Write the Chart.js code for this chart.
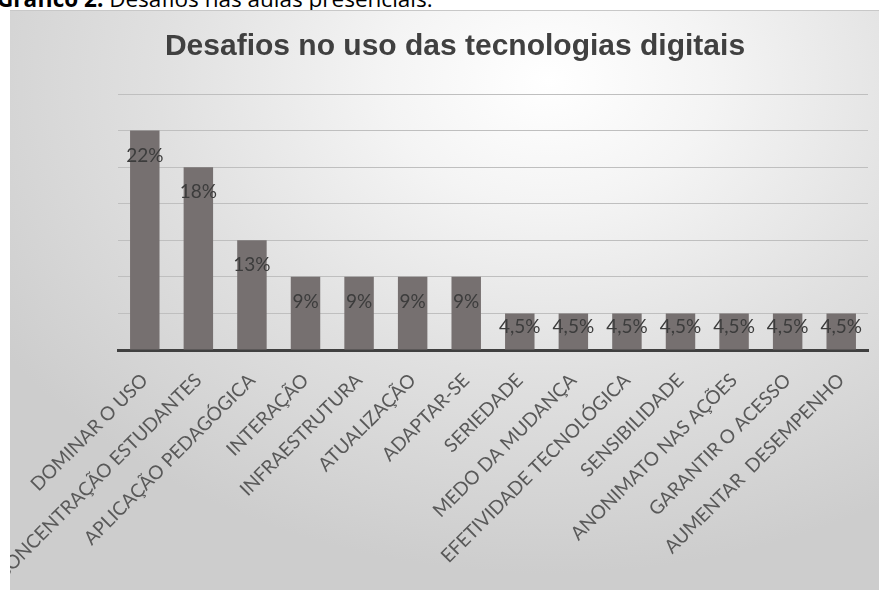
<!DOCTYPE html>
<html>
<head>
<meta charset="utf-8">
<script src="https://cdn.jsdelivr.net/npm/chart.js@4.4.1/dist/chart.umd.min.js"></script>
<style>
  body { margin: 0; width: 879px; height: 590px; overflow: hidden; position: relative; background: #fff; }
  #caption { position: absolute; left: -3px; top: -17px; font-family: 'Open Sans', sans-serif; font-size: 22.5px; color: #000; white-space: nowrap; }
  #box {
    position: absolute; left: 10px; top: 10px; width: 869px; height: 580px;
    border-top: 1px solid #c8c8c8;
    background: radial-gradient(ellipse 75% 85% at 62% 12%, #ffffff 0%, #f4f4f4 25%, #e0e0e0 60%, #cdcdcd 100%);
  }
  #box canvas { position: absolute; left: 0; top: -1px; }
</style>
</head>
<body>
<div id="caption"><b>Gráfico 2:</b> Desafios nas aulas presenciais.</div>
<div id="box"><canvas id="chart" width="869" height="580"></canvas></div>
<script>
// categories, bar heights (in respondents) and the printed labels
var categories = ['DOMINAR O USO', 'CONCENTRAÇÃO ESTUDANTES', 'APLICAÇÃO PEDAGÓGICA', 'INTERAÇÃO',
  'INFRAESTRUTURA', 'ATUALIZAÇÃO', 'ADAPTAR-SE', 'SERIEDADE', 'MEDO DA MUDANÇA',
  'EFETIVIDADE TECNOLÓGICA', 'SENSIBILIDADE', 'ANONIMATO NAS AÇÕES', 'GARANTIR O ACESSO', 'AUMENTAR  DESEMPENHO'];
var counts = [6, 5, 3, 2, 2, 2, 2, 1, 1, 1, 1, 1, 1, 1];
var pctLabels = ['22%', '18%', '13%', '9%', '9%', '9%', '9%', '4,5%', '4,5%', '4,5%', '4,5%', '4,5%', '4,5%', '4,5%'];

// draws the percent text inside the top of each bar
var barLabels = {
  id: 'barLabels',
  afterDatasetsDraw: function (chart) {
    var ctx = chart.ctx;
    var meta = chart.getDatasetMeta(0);
    ctx.save();
    ctx.font = '19px Lato';
    ctx.fillStyle = '#3c3c3c';
    ctx.textAlign = 'center';
    ctx.textBaseline = 'middle';
    meta.data.forEach(function (bar, i) {
      var h = bar.base - bar.y;
      var off = Math.min(25, h / 2 - 5);
      ctx.fillText(pctLabels[i], bar.x, bar.y + off);
    });
    ctx.restore();
  }
};

var ctx = document.getElementById('chart').getContext('2d');
new Chart(ctx, {
  type: 'bar',
  data: {
    labels: categories,
    datasets: [{
      label: 'Desafios',
      data: counts,
      backgroundColor: '#767070',
      barPercentage: 0.55,
      categoryPercentage: 1
    }]
  },
  options: {
    responsive: false,
    animation: false,
    layout: { padding: { left: 32, right: 11, top: 0, bottom: 0 } },
    plugins: {
      legend: { display: false },
      tooltip: { enabled: false },
      title: {
        display: true,
        text: 'Desafios no uso das tecnologias digitais',
        color: '#404040',
        font: { family: 'Liberation Sans', size: 30, weight: 'bold' },
        padding: { top: 19, bottom: 29 }
      }
    },
    scales: {
      x: {
        grid: { display: false },
        border: { color: '#404040', width: 3 },
        ticks: {
          autoSkip: false,
          minRotation: 45,
          maxRotation: 45,
          padding: 11,
          color: '#595959',
          font: { family: 'Lato', size: 19 }
        },
        afterFit: function (scale) {
          scale.height = 240;
          scale.paddingLeft = 0;
          scale.paddingRight = 0;
        }
      },
      y: {
        min: 0,
        max: 7,
        ticks: { display: false, stepSize: 1 },
        grid: { color: '#bfbfbf', drawTicks: false },
        border: { display: false },
        afterFit: function (scale) {
          scale.width = 76;
        }
      }
    }
  },
  plugins: [barLabels]
});
</script>
</body>
</html>
